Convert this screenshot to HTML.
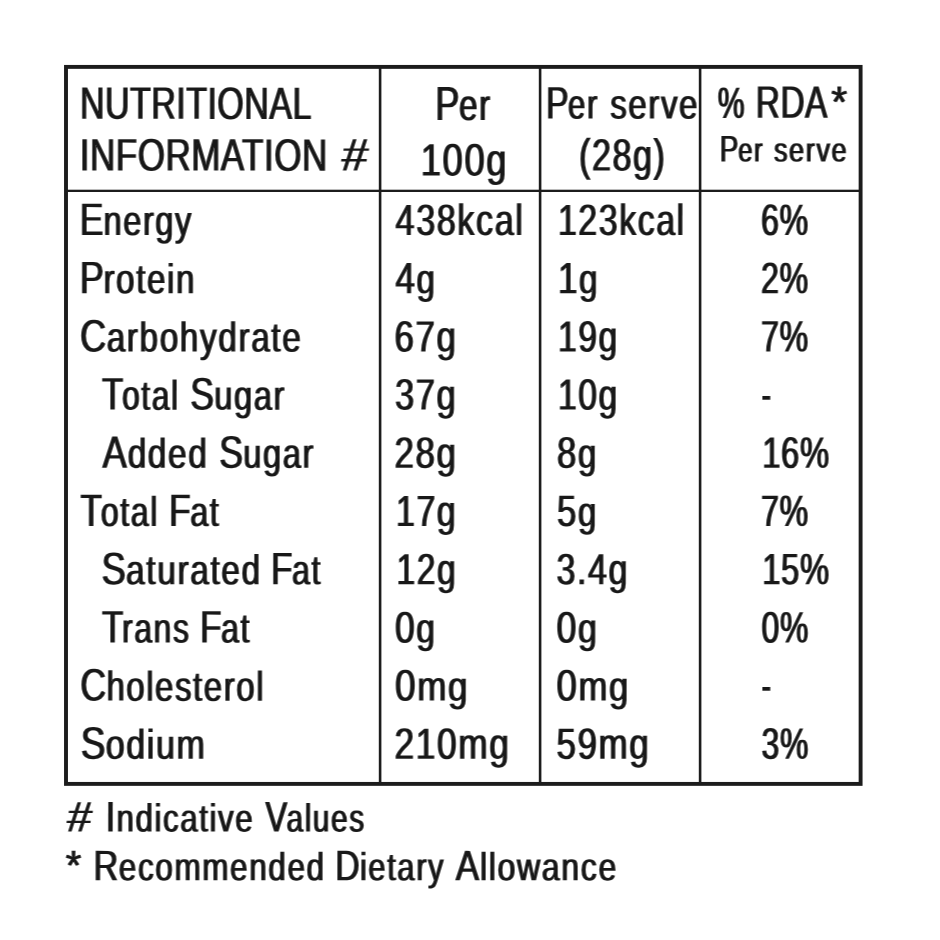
<!DOCTYPE html>
<html lang="en">
<head>
<meta charset="utf-8">
<title>Nutritional Information</title>
<style>
html,body{margin:0;padding:0;background:#fff;}
body{width:940px;height:940px;overflow:hidden;position:relative;}
.fx{position:absolute;width:0;height:0;overflow:hidden;}
.panel{position:absolute;left:0;top:0;width:940px;height:940px;background:#fff;overflow:hidden;}
.grid{position:absolute;left:0;top:0;display:block;}
.ink{position:absolute;left:0;top:0;width:940px;height:940px;filter:url(#ink);}
table{border-collapse:collapse;border:0;margin:0;}
th,td{padding:0;border:0;font-weight:400;}
p{margin:0;}
.w{position:absolute;left:0;top:0;white-space:pre;line-height:1;transform-origin:0 0;font-family:"Liberation Sans",sans-serif;font-weight:400;color:#181818;text-rendering:geometricPrecision;}
.c::first-letter{font-size:1.0893em;margin-right:var(--k,0);}
.n::first-letter{font-size:1.0545em;}
</style>
</head>
<body>
<svg class="fx" width="0" height="0" aria-hidden="true"><defs>
<filter id="ink" x="0" y="0" width="1" height="1" color-interpolation-filters="sRGB">
<feOffset in="SourceAlpha" dx="1" dy="0" result="l"/>
<feOffset in="SourceAlpha" dx="-1" dy="0" result="r"/>
<feComposite in="l" in2="SourceAlpha" operator="arithmetic" k1="0" k2="1" k3="-1" k4="0" result="dl"/>
<feComposite in="r" in2="SourceAlpha" operator="arithmetic" k1="0" k2="1" k3="-1" k4="0" result="dr"/>
<feComposite in="dl" in2="dr" operator="arithmetic" k1="0" k2="0.6" k3="0.6" k4="0" result="d"/>
<feComposite in="SourceAlpha" in2="d" operator="arithmetic" k1="0" k2="1" k3="1" k4="0" result="a"/>
<feFlood flood-color="#181818"/>
<feComposite in2="a" operator="in"/>
</filter>
</defs></svg>
<div class="panel">
<svg class="grid" width="940" height="940" viewBox="0 0 940 940" aria-hidden="true">
<rect x="66" y="66.9" width="794.6" height="717" fill="none" stroke="#1c1c1c" stroke-width="3.9"/>
<rect x="378.80" y="66" width="2.6" height="718" fill="#1c1c1c"/>
<rect x="538.80" y="66" width="2.6" height="718" fill="#1c1c1c"/>
<rect x="698.80" y="66" width="2.6" height="718" fill="#1c1c1c"/>
<rect x="66" y="189.7" width="795" height="2.3" fill="#1c1c1c"/>
</svg>
<main class="ink">
<table>
<thead>
<tr>
<th><span class="w" style="font-size:45.60px;letter-spacing:0.60px;transform:translate(79.94px,80.80px) rotate(.04deg) scaleX(0.7469)">NUTRITIONAL</span> <span class="w" style="font-size:45.60px;letter-spacing:0.60px;transform:translate(79.86px,132.50px) rotate(.04deg) scaleX(0.7688)">INFORMATION</span> <span class="w" style="font-size:45.60px;transform:translate(344.61px,132.50px) rotate(.04deg) scaleX(1.0214) skewX(-6deg)">#</span></th>
<th><span class="w c" style="font-size:43.95px;letter-spacing:2.00px;--k:-2.73px;transform:translate(435.26px,81.00px) rotate(.04deg) scaleX(0.7581)">Per</span> <span class="w" style="font-size:45.53px;letter-spacing:2.00px;transform:translate(420.83px,137.50px) rotate(.04deg) scaleX(0.7980)">100g</span></th>
<th><span class="w c" style="font-size:41.86px;letter-spacing:2.00px;--k:-2.60px;transform:translate(545.95px,80.50px) rotate(.04deg) scaleX(0.7446)">Per</span> <span class="w" style="font-size:41.86px;letter-spacing:2.00px;transform:translate(610.18px,83.50px) rotate(.04deg) scaleX(0.7916)">serve</span> <span class="w" style="font-size:45.09px;letter-spacing:2.00px;transform:translate(579.00px,132.60px) rotate(.04deg) scaleX(0.7586)">(28g)</span></th>
<th><span class="w" style="font-size:44.14px;transform:translate(717.86px,81.80px) rotate(.04deg) scaleX(0.6839)">%</span> <span class="w" style="font-size:45.60px;letter-spacing:0.60px;transform:translate(755.89px,79.80px) rotate(.04deg) scaleX(0.7330)">RDA</span><span class="w" style="font-size:45.60px;transform:translate(831.26px,79.80px) rotate(.04deg) scaleX(0.8970)">*</span> <span class="w c" style="font-size:33.91px;letter-spacing:2.00px;--k:-2.11px;transform:translate(719.72px,131.50px) rotate(.04deg) scaleX(0.7552)">Per</span> <span class="w" style="font-size:33.91px;letter-spacing:2.00px;transform:translate(773.98px,134.50px) rotate(.04deg) scaleX(0.7999)">serve</span></th>
</tr>
</thead>
<tbody>
<tr>
<th><span class="w c" style="font-size:41.86px;letter-spacing:2.00px;--k:-2.00px;transform:translate(79.82px,197.00px) rotate(.04deg) scaleX(0.7796)">Energy</span></th>
<td><span class="w" style="font-size:43.78px;letter-spacing:2.00px;transform:translate(395.57px,199.00px) rotate(.04deg) scaleX(0.7818)">438kcal</span></td>
<td><span class="w" style="font-size:43.78px;letter-spacing:2.00px;transform:translate(557.98px,199.00px) rotate(.04deg) scaleX(0.7745)">123kcal</span></td>
<td><span class="w" style="font-size:44.14px;letter-spacing:0.80px;transform:translate(761.09px,199.00px) rotate(.04deg) scaleX(0.7319)">6%</span></td>
</tr>
<tr>
<th><span class="w c" style="font-size:41.86px;letter-spacing:2.00px;--k:-2.60px;transform:translate(79.77px,255.20px) rotate(.04deg) scaleX(0.7939)">Protein</span></th>
<td><span class="w n" style="font-size:41.86px;letter-spacing:2.00px;transform:translate(395.55px,257.20px) rotate(.04deg) scaleX(0.7918)">4g</span></td>
<td><span class="w n" style="font-size:41.86px;letter-spacing:2.00px;transform:translate(557.91px,257.20px) rotate(.04deg) scaleX(0.7949)">1g</span></td>
<td><span class="w" style="font-size:44.14px;letter-spacing:0.80px;transform:translate(761.09px,257.20px) rotate(.04deg) scaleX(0.7319)">2%</span></td>
</tr>
<tr>
<th><span class="w c" style="font-size:41.86px;letter-spacing:2.00px;--k:-1.60px;transform:translate(80.15px,313.40px) rotate(.04deg) scaleX(0.7972)">Carbohydrate</span></th>
<td><span class="w" style="font-size:43.78px;letter-spacing:2.00px;transform:translate(394.46px,315.40px) rotate(.04deg) scaleX(0.7969)">67g</span></td>
<td><span class="w" style="font-size:43.78px;letter-spacing:2.00px;transform:translate(557.99px,315.40px) rotate(.04deg) scaleX(0.7697)">19g</span></td>
<td><span class="w" style="font-size:44.14px;letter-spacing:0.80px;transform:translate(761.09px,315.40px) rotate(.04deg) scaleX(0.7319)">7%</span></td>
</tr>
<tr>
<th><span class="w c" style="font-size:41.86px;letter-spacing:2.00px;--k:-3.60px;transform:translate(102.06px,371.60px) rotate(.04deg) scaleX(0.7614)">Total</span> <span class="w c" style="font-size:41.86px;letter-spacing:2.00px;--k:-1.60px;transform:translate(190.19px,371.60px) rotate(.04deg) scaleX(0.7809)">Sugar</span></th>
<td><span class="w" style="font-size:43.78px;letter-spacing:2.00px;transform:translate(395.02px,373.60px) rotate(.04deg) scaleX(0.7895)">37g</span></td>
<td><span class="w" style="font-size:43.78px;letter-spacing:2.00px;transform:translate(557.99px,373.60px) rotate(.04deg) scaleX(0.7697)">10g</span></td>
<td><span class="w" style="font-size:45.60px;transform:translate(761.74px,371.60px) rotate(.04deg) scaleX(0.6027)">-</span></td>
</tr>
<tr>
<th><span class="w c" style="font-size:41.86px;letter-spacing:2.00px;--k:-1.00px;transform:translate(102.60px,429.80px) rotate(.04deg) scaleX(0.7988)">Added</span> <span class="w c" style="font-size:41.86px;letter-spacing:2.00px;--k:-1.60px;transform:translate(219.19px,429.80px) rotate(.04deg) scaleX(0.7805)">Sugar</span></th>
<td><span class="w" style="font-size:43.78px;letter-spacing:2.00px;transform:translate(394.46px,431.80px) rotate(.04deg) scaleX(0.7969)">28g</span></td>
<td><span class="w n" style="font-size:41.86px;letter-spacing:2.00px;transform:translate(557.01px,431.80px) rotate(.04deg) scaleX(0.7874)">8g</span></td>
<td><span class="w" style="font-size:44.14px;letter-spacing:0.80px;transform:translate(762.30px,431.80px) rotate(.04deg) scaleX(0.7430)">16%</span></td>
</tr>
<tr>
<th><span class="w c" style="font-size:41.86px;letter-spacing:2.00px;--k:-3.60px;transform:translate(80.55px,488.00px) rotate(.04deg) scaleX(0.7697)">Total</span> <span class="w c" style="font-size:41.86px;letter-spacing:2.00px;--k:-2.60px;transform:translate(169.03px,488.00px) rotate(.04deg) scaleX(0.7770)">Fat</span></th>
<td><span class="w" style="font-size:43.78px;letter-spacing:2.00px;transform:translate(395.98px,490.00px) rotate(.04deg) scaleX(0.7767)">17g</span></td>
<td><span class="w n" style="font-size:41.86px;letter-spacing:2.00px;transform:translate(557.01px,490.00px) rotate(.04deg) scaleX(0.7874)">5g</span></td>
<td><span class="w" style="font-size:44.14px;letter-spacing:0.80px;transform:translate(761.09px,490.00px) rotate(.04deg) scaleX(0.7319)">7%</span></td>
</tr>
<tr>
<th><span class="w c" style="font-size:41.86px;letter-spacing:2.00px;--k:-1.60px;transform:translate(101.46px,546.20px) rotate(.04deg) scaleX(0.7999)">Saturated</span> <span class="w c" style="font-size:41.86px;letter-spacing:2.00px;--k:-2.60px;transform:translate(271.06px,546.20px) rotate(.04deg) scaleX(0.7704)">Fat</span></th>
<td><span class="w" style="font-size:43.78px;letter-spacing:2.00px;transform:translate(396.49px,548.20px) rotate(.04deg) scaleX(0.7697)">12g</span></td>
<td><span class="w" style="font-size:43.78px;letter-spacing:2.00px;transform:translate(556.53px,548.20px) rotate(.04deg) scaleX(0.7788)">3.4g</span></td>
<td><span class="w" style="font-size:44.14px;letter-spacing:0.80px;transform:translate(762.30px,548.20px) rotate(.04deg) scaleX(0.7430)">15%</span></td>
</tr>
<tr>
<th><span class="w c" style="font-size:41.86px;letter-spacing:2.00px;--k:-3.60px;transform:translate(102.06px,604.40px) rotate(.04deg) scaleX(0.7639)">Trans</span> <span class="w c" style="font-size:41.86px;letter-spacing:2.00px;--k:-2.60px;transform:translate(200.05px,604.40px) rotate(.04deg) scaleX(0.7721)">Fat</span></th>
<td><span class="w n" style="font-size:41.86px;letter-spacing:2.00px;transform:translate(394.99px,606.40px) rotate(.04deg) scaleX(0.8037)">0g</span></td>
<td><span class="w n" style="font-size:41.86px;letter-spacing:2.00px;transform:translate(556.48px,606.40px) rotate(.04deg) scaleX(0.8091)">0g</span></td>
<td><span class="w" style="font-size:44.14px;letter-spacing:0.80px;transform:translate(761.60px,606.40px) rotate(.04deg) scaleX(0.7237)">0%</span></td>
</tr>
<tr>
<th><span class="w c" style="font-size:41.86px;letter-spacing:2.00px;--k:-1.60px;transform:translate(80.17px,662.60px) rotate(.04deg) scaleX(0.7877)">Cholesterol</span></th>
<td><span class="w n" style="font-size:41.86px;letter-spacing:2.00px;transform:translate(394.94px,664.60px) rotate(.04deg) scaleX(0.8383)">0mg</span></td>
<td><span class="w n" style="font-size:41.86px;letter-spacing:2.00px;transform:translate(556.46px,664.60px) rotate(.04deg) scaleX(0.8292)">0mg</span></td>
<td><span class="w" style="font-size:45.60px;transform:translate(761.74px,662.60px) rotate(.04deg) scaleX(0.6027)">-</span></td>
</tr>
<tr>
<th><span class="w c" style="font-size:41.86px;letter-spacing:2.00px;--k:-1.60px;transform:translate(80.69px,720.80px) rotate(.04deg) scaleX(0.8128)">Sodium</span></th>
<td><span class="w" style="font-size:43.78px;letter-spacing:2.00px;transform:translate(394.44px,722.80px) rotate(.04deg) scaleX(0.8068)">210mg</span></td>
<td><span class="w" style="font-size:43.78px;letter-spacing:2.00px;transform:translate(556.51px,722.80px) rotate(.04deg) scaleX(0.7996)">59mg</span></td>
<td><span class="w" style="font-size:44.14px;letter-spacing:0.80px;transform:translate(761.60px,722.80px) rotate(.04deg) scaleX(0.7237)">3%</span></td>
</tr>
</tbody>
</table>
<p><span class="w" style="font-size:42.73px;transform:translate(69.80px,796.40px) rotate(.04deg) scaleX(1.0215) skewX(-6deg)">#</span> <span class="w c" style="font-size:39.22px;letter-spacing:2.00px;--k:-0.56px;transform:translate(105.84px,796.40px) rotate(.04deg) scaleX(0.7980)">Indicative</span> <span class="w c" style="font-size:39.22px;letter-spacing:2.00px;--k:-3.00px;transform:translate(265.50px,796.40px) rotate(.04deg) scaleX(0.7630)">Values</span></p>
<p><span class="w" style="font-size:42.73px;transform:translate(65.88px,845.20px) rotate(.04deg) scaleX(0.9313)">*</span> <span class="w c" style="font-size:39.22px;letter-spacing:2.00px;--k:-1.50px;transform:translate(93.62px,845.20px) rotate(.04deg) scaleX(0.8033)">Recommended</span> <span class="w c" style="font-size:39.22px;letter-spacing:2.00px;--k:-1.50px;transform:translate(335.16px,845.20px) rotate(.04deg) scaleX(0.7899)">Dietary</span> <span class="w c" style="font-size:39.22px;letter-spacing:2.00px;--k:-0.94px;transform:translate(455.80px,845.20px) rotate(.04deg) scaleX(0.8186)">Allowance</span></p>
</main>
</div>
</body>
</html>
